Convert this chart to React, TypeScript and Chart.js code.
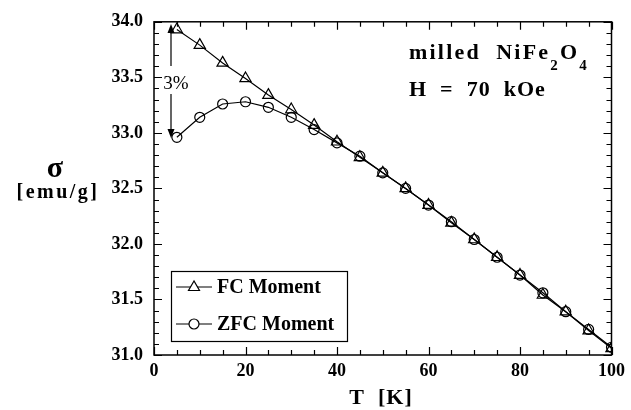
import React, { useEffect, useRef } from "react";
import { Chart, registerables } from "chart.js";

Chart.register(...registerables);

const temperatures = [5, 10, 15, 20, 25, 30, 35, 40, 45, 50, 55, 60, 65, 70, 75, 80, 85, 90, 95, 100];
const fcMoment = [33.93, 33.79, 33.63, 33.49, 33.34, 33.21, 33.07, 32.92, 32.78, 32.64, 32.5, 32.35, 32.19, 32.04, 31.88, 31.72, 31.54, 31.39, 31.22, 31.06];
const zfcMoment = [32.96, 33.14, 33.26, 33.28, 33.23, 33.14, 33.03, 32.91, 32.79, 32.64, 32.5, 32.35, 32.2, 32.04, 31.88, 31.72, 31.56, 31.39, 31.23, 31.07];
const seriesNames = ["FC Moment", "ZFC Moment"];
const xTitle = "T  [K]";
const yTitleSymbol = "σ";
const yTitleUnit = "[emu/g]";
const sampleLine1 = "milled  NiFe";
const sampleLine2 = "H = 70 kOe";
const annotationText = "3%";

const SERIF = "'Liberation Serif', 'Times New Roman', serif";

const overlay = {
  id: "overlay",
  afterDraw(chart: any) {
    const ctx = chart.ctx as CanvasRenderingContext2D;
    const { left, right, top, bottom } = chart.chartArea;
    const xs = chart.scales.x;
    const ys = chart.scales.y;
    ctx.save();
    ctx.strokeStyle = "#000";
    ctx.fillStyle = "#000";
    // frame
    ctx.lineWidth = 1.5;
    ctx.strokeRect(left, top, right - left, bottom - top);
    // x ticks
    ctx.lineWidth = 1.2;
    for (let v = 0; v <= 100; v += 5) {
      const px = Math.round(xs.getPixelForValue(v)) + 0.5;
      const len = v % 20 === 0 ? 8 : 5;
      ctx.beginPath();
      ctx.moveTo(px, bottom);
      ctx.lineTo(px, bottom - len);
      ctx.moveTo(px, top);
      ctx.lineTo(px, top + len);
      ctx.stroke();
    }
    for (let i = 0; i <= 30; i++) {
      const v = 31 + i * 0.1;
      const py = Math.round(ys.getPixelForValue(v)) + 0.5;
      const len = i % 5 === 0 ? 8 : 5;
      ctx.beginPath();
      ctx.moveTo(left, py);
      ctx.lineTo(left + len, py);
      ctx.moveTo(right, py);
      ctx.lineTo(right - len, py);
      ctx.stroke();
    }
    // axis titles
    ctx.textBaseline = "alphabetic";
    ctx.textAlign = "center";
    ctx.font = `bold 22px ${SERIF}`;
    (ctx as any).letterSpacing = "1px";
    ctx.fillText(xTitle, 381, 404);
    ctx.font = `bold 30px ${SERIF}`;
    (ctx as any).letterSpacing = "0px";
    ctx.fillText(yTitleSymbol, 55, 177);
    ctx.font = `bold 20px ${SERIF}`;
    (ctx as any).letterSpacing = "2.5px";
    ctx.fillText(yTitleUnit, 58, 198);
    // sample text
    ctx.textAlign = "left";
    ctx.font = `bold 22px ${SERIF}`;
    (ctx as any).letterSpacing = "2.2px";
    ctx.fillText(sampleLine1, 409, 59);
    const w = ctx.measureText(sampleLine1).width;
    ctx.font = `bold 15px ${SERIF}`;
    ctx.fillText("2", 409 + w, 70);
    const w2 = ctx.measureText("2").width;
    ctx.font = `bold 22px ${SERIF}`;
    ctx.fillText("O", 409 + w + w2, 59);
    const w3 = ctx.measureText("O").width;
    ctx.font = `bold 15px ${SERIF}`;
    ctx.fillText("4", 409 + w + w2 + w3, 70);
    ctx.font = `bold 22px ${SERIF}`;
    (ctx as any).letterSpacing = "1px";
    ctx.fillText(sampleLine2.replace(/ /g, "  "), 409, 96);
    (ctx as any).letterSpacing = "0px";
    // 3% arrow
    const ax = 171;
    const yTop = 24, yBot = 138;
    ctx.lineWidth = 1.2;
    ctx.beginPath();
    ctx.moveTo(ax, yTop + 6);
    ctx.lineTo(ax, 66);
    ctx.moveTo(ax, 94);
    ctx.lineTo(ax, yBot - 6);
    ctx.stroke();
    ctx.beginPath();
    ctx.moveTo(ax, yTop);
    ctx.lineTo(ax - 3.5, yTop + 9);
    ctx.lineTo(ax + 3.5, yTop + 9);
    ctx.closePath();
    ctx.fill();
    ctx.beginPath();
    ctx.moveTo(ax, yBot);
    ctx.lineTo(ax - 3.5, yBot - 9);
    ctx.lineTo(ax + 3.5, yBot - 9);
    ctx.closePath();
    ctx.fill();
    ctx.font = `19px ${SERIF}`;
    ctx.textAlign = "center";
    ctx.fillText(annotationText, 176, 89);
    // legend
    const lx = 171, ly = 271, lw = 176, lh = 70;
    ctx.fillStyle = "#fff";
    ctx.fillRect(lx, ly, lw, lh);
    ctx.lineWidth = 1.2;
    ctx.strokeRect(lx + 0.5, ly + 0.5, lw, lh);
    ctx.fillStyle = "#000";
    const rows = [ly + 16, ly + 53];
    const styles = ["triangle", "circle"];
    rows.forEach((ry, i) => {
      ctx.beginPath();
      ctx.moveTo(176, ry);
      ctx.lineTo(212, ry);
      ctx.stroke();
      ctx.beginPath();
      ctx.fillStyle = "#fff";
      if (styles[i] === "triangle") {
        ctx.moveTo(194, ry - 6);
        ctx.lineTo(188.5, ry + 3.5);
        ctx.lineTo(199.5, ry + 3.5);
        ctx.closePath();
      } else {
        ctx.arc(194, ry, 5, 0, Math.PI * 2);
      }
      ctx.fill();
      ctx.stroke();
      ctx.fillStyle = "#000";
      ctx.font = `bold 20px ${SERIF}`;
      ctx.textAlign = "left";
      ctx.textBaseline = "middle";
      ctx.fillText(seriesNames[i], 217, ry + 1);
    });
    ctx.restore();
  },
};

export default function App() {
  const ref = useRef<HTMLCanvasElement>(null);
  useEffect(() => {
    document.body.style.margin = "0";
    const chart = new Chart(ref.current!, {
      type: "line",
      data: {
        datasets: [
          {
            label: seriesNames[0],
            data: temperatures.map((t, i) => ({ x: t, y: fcMoment[i] })),
            borderColor: "#000",
            borderWidth: 1.2,
            pointStyle: "triangle",
            pointRadius: 6.5,
            pointBorderWidth: 1.2,
            pointBorderColor: "#000",
            pointBackgroundColor: "rgba(0,0,0,0)",
            tension: 0,
          },
          {
            label: seriesNames[1],
            data: temperatures.map((t, i) => ({ x: t, y: zfcMoment[i] })),
            borderColor: "#000",
            borderWidth: 1.2,
            pointStyle: "circle",
            pointRadius: 5,
            pointBorderWidth: 1.2,
            pointBorderColor: "#000",
            pointBackgroundColor: "rgba(0,0,0,0)",
            tension: 0,
          },
        ],
      },
      options: {
        animation: false,
        responsive: false,
        devicePixelRatio: 1,
        layout: { padding: { left: 0, right: 17, top: 19, bottom: 0 } },
        plugins: { legend: { display: false }, tooltip: { enabled: false } },
        scales: {
          x: {
            type: "linear",
            min: 0,
            max: 100,
            grid: { display: false, drawTicks: false },
            border: { display: false },
            ticks: {
              stepSize: 20,
              padding: 6,
              color: "#000",
              font: { family: SERIF, size: 18, weight: "bold" },
              maxRotation: 0,
            },
            afterFit: (s: any) => {
              s.height = 55;
            },
          },
          y: {
            type: "linear",
            min: 31,
            max: 34,
            grid: { display: false, drawTicks: false },
            border: { display: false },
            ticks: {
              stepSize: 0.5,
              padding: 11,
              color: "#000",
              font: { family: SERIF, size: 18, weight: "bold" },
              callback: (v: any) => Number(v).toFixed(1),
            },
            afterFit: (s: any) => {
              s.width = 154;
            },
          },
        },
      },
      plugins: [overlay],
    });
    return () => chart.destroy();
  }, []);
  return (
    <div style={{ position: "absolute", left: 0, top: 0, width: 631, height: 410, background: "#fff" }}>
      <canvas ref={ref} width={631} height={410} style={{ width: 631, height: 410 }} />
    </div>
  );
}
